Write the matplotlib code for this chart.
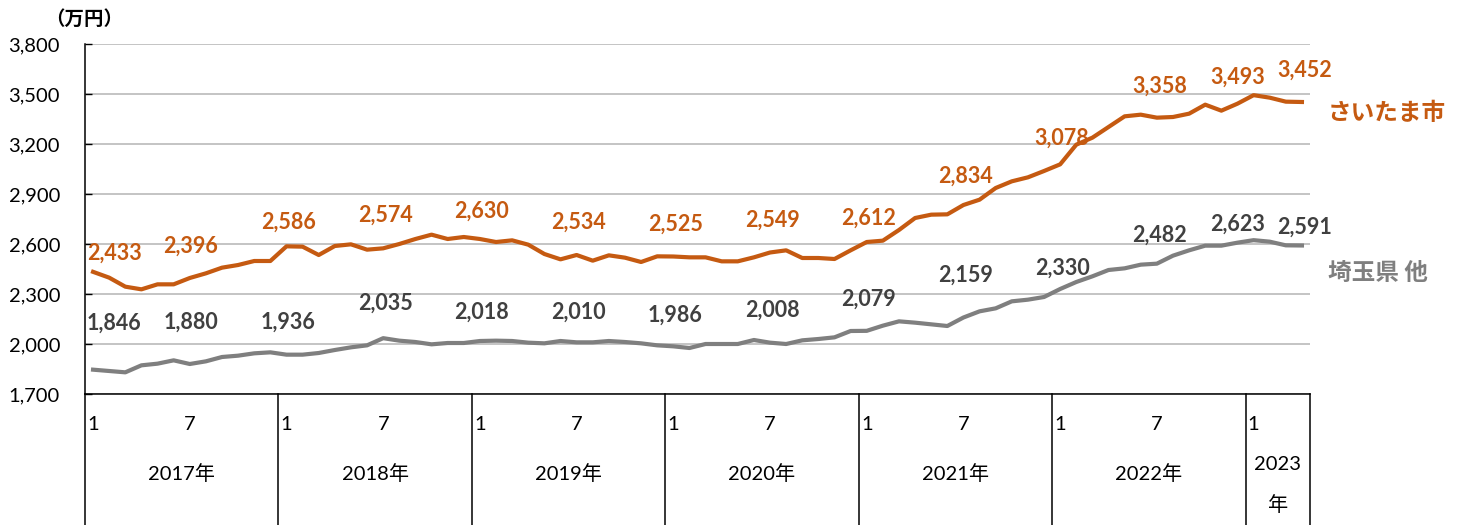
import matplotlib
matplotlib.use("Agg")
import matplotlib.pyplot as plt
import numpy as np

plt.rcParams['font.family'] = ['Lato', 'Noto Sans CJK JP', 'DejaVu Sans']

# ---------------- data ----------------
years = ["2017年", "2018年", "2019年", "2020年", "2021年", "2022年", "2023\n年"]
months_per_year = [12, 12, 12, 12, 12, 12, 4]
month_tick_labels = ["1", "7"]

saitama = [2433, 2398, 2344, 2328, 2358, 2358, 2396, 2424, 2458, 2474, 2498, 2498,
           2586, 2584, 2534, 2588, 2598, 2566, 2574, 2600, 2630, 2656, 2630, 2642,
           2630, 2612, 2622, 2596, 2540, 2508, 2534, 2500, 2532, 2518, 2492, 2526,
           2525, 2520, 2520, 2496, 2496, 2520, 2549, 2562, 2516, 2516, 2510, 2562,
           2612, 2620, 2684, 2756, 2776, 2778, 2834, 2866, 2936, 2976, 3000, 3038,
           3078, 3196, 3238, 3302, 3366, 3376, 3358, 3362, 3382, 3436, 3400, 3442,
           3493, 3478, 3454, 3452]

saitama_pref = [1846, 1838, 1830, 1872, 1882, 1902, 1880, 1896, 1922, 1930, 1944, 1950,
                1936, 1936, 1946, 1964, 1980, 1992, 2035, 2020, 2012, 1998, 2006, 2006,
                2018, 2020, 2018, 2008, 2004, 2018, 2010, 2010, 2018, 2012, 2004, 1992,
                1986, 1976, 2000, 2000, 2000, 2024, 2008, 2000, 2022, 2030, 2040, 2078,
                2079, 2110, 2136, 2128, 2118, 2108, 2159, 2196, 2214, 2256, 2266, 2282,
                2330, 2372, 2406, 2444, 2454, 2476, 2482, 2530, 2562, 2590, 2590, 2608,
                2623, 2614, 2592, 2591]

label_idx = [0, 6, 12, 18, 24, 30, 36, 42, 48, 54, 60, 66, 72, 75]
series_names = ["さいたま市", "埼玉県 他"]
unit_label = "（万円）"

# ---------------- layout / style ----------------
W, H = 1461, 525
fig = plt.figure(figsize=(W / 100, H / 100), dpi=100)
ax_left, ax_right, ax_top, ax_bottom = 85, 1310, 44, 394
ax = fig.add_axes([ax_left / W, (H - ax_bottom) / H,
                   (ax_right - ax_left) / W, (ax_bottom - ax_top) / H])

orange = "#C55A11"
gray_line = "#7F7F7F"
gray_text = "#404040"

n = len(saitama)
x = np.arange(n)
ax.plot(x, saitama, color=orange, lw=3.0, solid_joinstyle='round', zorder=3)
ax.plot(x, saitama_pref, color=gray_line, lw=3.0, solid_joinstyle='round', zorder=3)

ax.set_xlim(-0.5, n - 0.5)
ax.set_ylim(1700, 3800)
ax.set_yticks(np.arange(1700, 3801, 300))
ax.set_yticklabels([f"{v:,}" for v in range(1700, 3801, 300)], fontsize=14.5)
ax.yaxis.grid(True, color="#B4B4B4", lw=1.1)
ax.set_axisbelow(True)
ax.tick_params(axis='y', direction='in', length=5, width=1, pad=18, colors='black')
ax.tick_params(axis='x', bottom=False, labelbottom=False)
for s in ['top', 'right']:
    ax.spines[s].set_visible(False)
ax.spines['left'].set_color('black')
ax.spines['bottom'].set_color('black')
ax.spines['left'].set_linewidth(1.1)
ax.spines['bottom'].set_linewidth(1.1)

# data labels
off_or = [19, 32, 24, 33, 28, 33, 32, 32, 24, 29, 26, 31, 18, 32]
off_gr = [46, 42, 32, 35, 29, 30, 31, 32, 32, 42, 21, 28, 16, 18]
dx_lab = [-6, 1, 2, 2, 2, 2, 2, 2, 2, 2, 2, 3, -16, 3]
for k, i in enumerate(label_idx):
    ha = 'left' if i == 0 else 'center'
    ax.annotate(f"{saitama[i]:,}", (i, saitama[i]), xytext=(dx_lab[k], off_or[k]),
                textcoords='offset pixels', ha=ha, va='center',
                fontsize=15.5, fontweight='bold', color=orange, zorder=5)
    ax.annotate(f"{saitama_pref[i]:,}", (i, saitama_pref[i]), xytext=(dx_lab[k], off_gr[k]),
                textcoords='offset pixels', ha=ha, va='center',
                fontsize=15.5, fontweight='bold', color=gray_text, zorder=5)

# category table below the axis
trans = ax.get_xaxis_transform()
ah = ax_bottom - ax_top
y_bot = -(H - ax_bottom) / ah
bounds = np.concatenate([[0], np.cumsum(months_per_year)]) - 0.5
for b in bounds:
    ax.plot([b, b], [0, y_bot], transform=trans, color='black', lw=1.1, clip_on=False)

y_month = -(425 - ax_bottom) / ah
start = 0
for yi, (yl, m) in enumerate(zip(years, months_per_year)):
    for ml in month_tick_labels:
        mi = int(ml) - 1
        if mi < m:
            ax.text(start + mi, y_month, ml, transform=trans, ha='center', va='center',
                    fontsize=14.5)
    cx = start + (m - 1) / 2
    if "\n" in yl:
        top, bottom = yl.split("\n")
        ax.text(cx, -(465 - ax_bottom) / ah, top, transform=trans, ha='center',
                va='center', fontsize=14.5)
        ax.text(cx, -(505 - ax_bottom) / ah, bottom, transform=trans, ha='center',
                va='center', fontsize=14.5)
    else:
        ax.text(cx, -(474 - ax_bottom) / ah, yl, transform=trans, ha='center',
                va='center', fontsize=14.5)
    start += m

# unit label
fig.text(84 / W, 1 - 19 / H, unit_label, ha='center', va='center', fontsize=14,
         fontweight='bold', family=['Noto Sans CJK JP'])

# series names on the right
fig.text(1328 / W, 1 - 113 / H, series_names[0], ha='left', va='center', fontsize=17,
         fontweight='bold', color=orange, family=['Noto Sans CJK JP'])
fig.text(1328 / W, 1 - 273 / H, series_names[1], ha='left', va='center', fontsize=17,
         fontweight='bold', color=gray_line, family=['Noto Sans CJK JP'])

fig.savefig("out.png", dpi=100)
